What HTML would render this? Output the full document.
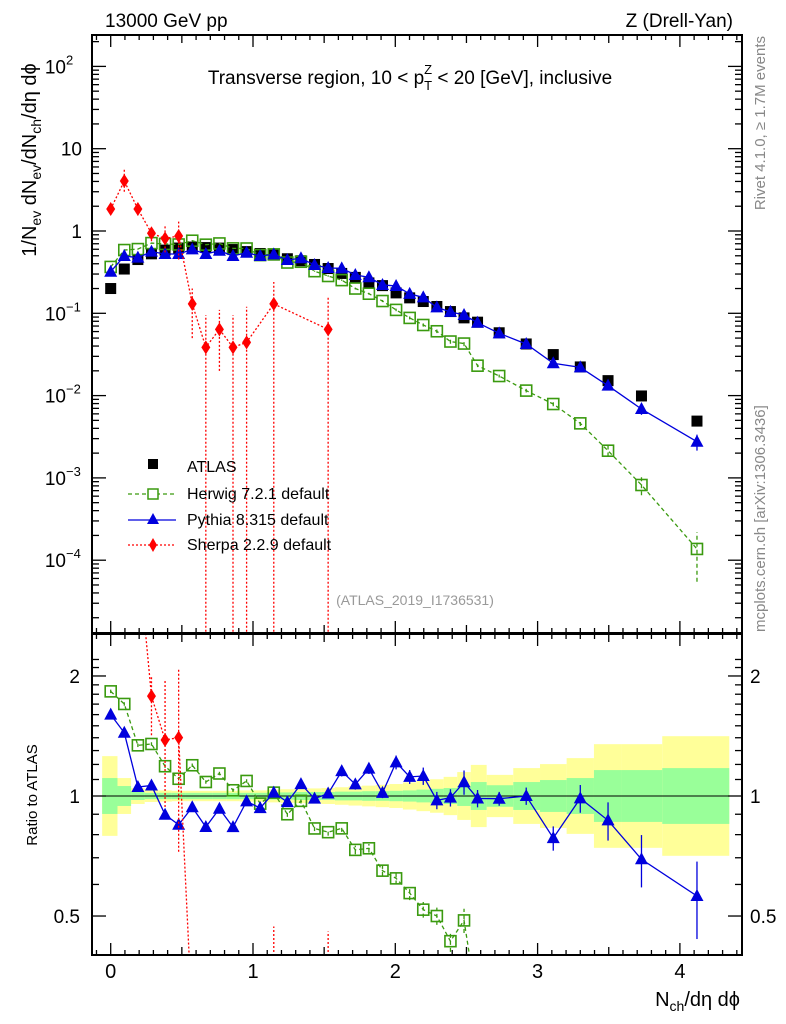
<!DOCTYPE html>
<html><head><meta charset="utf-8"><style>
html,body{margin:0;padding:0;background:#fff;width:786px;height:1024px;overflow:hidden;}
svg{display:block;font-family:"Liberation Sans",sans-serif;overflow:hidden;}
</style></head><body>
<svg id="chart" width="786" height="1024" viewBox="0 0 786 1024" xmlns="http://www.w3.org/2000/svg">
<defs>
<clipPath id="cm"><rect x="92" y="36" width="649" height="596"/></clipPath>
<clipPath id="cr"><rect x="92" y="635" width="649" height="319"/></clipPath>
</defs>
<g id="bands"></g>
<g id="frames"></g>
<g id="series"></g>
<text x="105" y="27" font-size="19">13000 GeV pp</text>
<text x="733" y="27" font-size="19" text-anchor="end">Z (Drell-Yan)</text>
<text x="410" y="84" font-size="19" text-anchor="middle">Transverse region, 10 &lt; p<tspan font-size="13" dy="6">T</tspan><tspan font-size="13" dx="-8" dy="-16">Z</tspan><tspan dy="10"> &lt; 20 [GeV], inclusive</tspan></text>
<text transform="translate(36,160) rotate(-90)" font-size="20" text-anchor="middle">1/N<tspan font-size="14" dy="5">ev</tspan><tspan dy="-5"> dN</tspan><tspan font-size="14" dy="5">ev</tspan><tspan dy="-5">/dN</tspan><tspan font-size="14" dy="5">ch</tspan><tspan dy="-5">/dη dϕ</tspan></text>
<text transform="translate(37,795) rotate(-90)" font-size="15" text-anchor="middle">Ratio to ATLAS</text>
<text x="740" y="1006" font-size="20" text-anchor="end">N<tspan font-size="14" dy="5">ch</tspan><tspan dy="-5">/dη dϕ</tspan></text>
<text transform="translate(765,36) rotate(-90)" font-size="15" fill="#888" text-anchor="end">Rivet 4.1.0, ≥ 1.7M events</text>
<text transform="translate(765,632) rotate(-90)" font-size="15" fill="#888" text-anchor="start">mcplots.cern.ch [arXiv:1306.3436]</text>
<text x="415" y="605" font-size="14" fill="#999" text-anchor="middle">(ATLAS_2019_I1736531)</text>
<g id="legend">
<rect x="148" y="459" width="10" height="10" fill="#000"/>
<text x="187" y="472" font-size="16">ATLAS</text>
<line x1="128" y1="494" x2="176" y2="494" stroke="#3a9a0f" stroke-width="1.3" stroke-dasharray="4,3"/>
<rect x="148" y="489" width="10" height="10" fill="#fff" stroke="#3a9a0f" stroke-width="1.5"/>
<text x="187" y="499" font-size="16">Herwig 7.2.1 default</text>
<line x1="128" y1="520" x2="176" y2="520" stroke="#0000dd" stroke-width="1.3"/>
<path d="M153,513 L159,524 L147,524 Z" fill="#0000dd"/>
<text x="187" y="525" font-size="16">Pythia 8.315 default</text>
<line x1="128" y1="545" x2="176" y2="545" stroke="#f00" stroke-width="1.3" stroke-dasharray="2,2"/>
<path d="M153,538 L157,545 L153,552 L149,545 Z" fill="#f00"/>
<text x="187" y="550" font-size="16">Sherpa 2.2.9 default</text>
</g>
</svg>
<script>
const xCenters=[0,0.0955,0.191,0.2865,0.382,0.4775,0.573,0.6685,0.764,0.8595,0.955,1.0505,1.146,1.2415,1.337,1.4325,1.528,1.6235,1.719,1.8145,1.91,2.0055,2.101,2.1965,2.292,2.3875,2.483,2.578,2.73,2.92,3.11,3.30,3.495,3.73,4.12];
const xEdgesHi=[0.0477,0.1432,0.2387,0.3342,0.4297,0.5252,0.6207,0.7162,0.8117,0.9072,1.0027,1.0982,1.1937,1.2892,1.3847,1.4802,1.5757,1.6712,1.7667,1.8622,1.9577,2.0532,2.1487,2.2442,2.3397,2.4352,2.5307,2.642,2.829,3.017,3.204,3.396,3.59,3.876,4.347];
const atlasVals=[0.2,0.345,0.45,0.528,0.586,0.621,0.638,0.629,0.62,0.595,0.562,0.533,0.51,0.46,0.435,0.392,0.35,0.305,0.273,0.234,0.217,0.177,0.154,0.139,0.121,0.105,0.088,0.078,0.058,0.0424,0.0315,0.0223,0.0152,0.0099,0.0049];
const herwigVals=[0.366,0.587,0.603,0.713,0.696,0.686,0.762,0.682,0.706,0.615,0.613,0.510,0.520,0.414,0.423,0.325,0.284,0.253,0.200,0.173,0.141,0.110,0.0879,0.0721,0.0605,0.0454,0.0429,0.0231,0.0173,0.0115,0.0079,0.0046,0.00214,0.00082,0.000137];
const herwigErr=[0.01,0.01,0.01,0.01,0.01,0.01,0.01,0.01,0.01,0.01,0.01,0.01,0.01,0.015,0.015,0.015,0.02,0.02,0.025,0.025,0.03,0.035,0.04,0.045,0.05,0.06,0.07,0.04,0.04,0.05,0.06,0.07,0.15,0.25,0.6];
const pythiaVals=[0.32,0.497,0.474,0.561,0.526,0.526,0.598,0.526,0.576,0.497,0.545,0.497,0.52,0.444,0.466,0.386,0.355,0.352,0.292,0.274,0.221,0.215,0.172,0.156,0.118,0.104,0.0953,0.0769,0.0571,0.0424,0.0247,0.022,0.0132,0.00687,0.00275];
const pythiaErr=[0.02,0.01,0.01,0.01,0.01,0.01,0.01,0.01,0.01,0.01,0.01,0.01,0.01,0.01,0.02,0.02,0.02,0.03,0.03,0.03,0.03,0.04,0.04,0.05,0.05,0.05,0.07,0.05,0.04,0.05,0.07,0.08,0.11,0.15,0.22];
const sherpaVals=[1.85,4.05,1.85,0.94,0.81,0.87,0.13,0.0386,0.0638,0.0386,0.0444,null,0.13,null,null,null,0.0638];
const sherpaLo=[1.6,3.0,1.55,0.75,0.55,0.45,0.05,1e-9,0.02,1e-9,1e-9,null,1e-9,null,null,null,1e-9];
const sherpaHi=[2.1,5.7,2.2,1.05,1.15,1.3,0.2,0.095,0.11,0.095,0.12,null,0.24,null,null,null,0.16];
const bandYellow=[0.10,0.045,0.02,0.015,0.014,0.013,0.013,0.013,0.013,0.013,0.014,0.014,0.016,0.017,0.018,0.019,0.02,0.022,0.024,0.026,0.028,0.03,0.034,0.038,0.042,0.048,0.06,0.078,0.053,0.07,0.08,0.095,0.13,0.13,0.15];
const bandGreen=[0.045,0.025,0.01,0.008,0.008,0.008,0.008,0.008,0.008,0.008,0.008,0.008,0.009,0.009,0.01,0.01,0.01,0.011,0.011,0.012,0.012,0.013,0.014,0.016,0.018,0.02,0.025,0.035,0.027,0.035,0.04,0.045,0.065,0.065,0.07];
const xTicks=[0,1,2,3,4];
const mainTickExp=[-4,-3,-2,-1,0,1,2];
const mainTickLabels=["10","10","10","10","1","10","10"];
const mainTickSup=["−4","−3","−2","−1","","","2"];
const ratioTicks=[0.5,1,2];

const clampY=y=>Math.max(0,Math.min(1020,y));
const X=v=>110.7+142.3*v;
const Ym=v=>clampY(231-82.3*Math.log10(v));
const Yr=r=>clampY(796-398.7*Math.log10(r));
const NS="http://www.w3.org/2000/svg";
function mk(tag,attrs,parent){const e=document.createElementNS(NS,tag);for(const k in attrs)e.setAttribute(k,attrs[k]);parent.appendChild(e);return e;}
const bands=document.getElementById('bands'),frames=document.getElementById('frames'),series=document.getElementById('series');
bands.setAttribute('clip-path','url(#cr)');

function drawBand(arr,color,nm){
  for(let i=0;i<xCenters.length;i++){
    const lo=i===0?-0.06:xEdgesHi[i-1];
    const d=arr[i];
    const r=mk('rect',{x:X(lo),y:Yr(Math.pow(10,d)),width:X(xEdgesHi[i])-X(lo),height:Yr(Math.pow(10,-d))-Yr(Math.pow(10,d)),fill:color},bands);
    
    
  }
}
drawBand(bandYellow,'#ffff99','total-unc-band');
drawBand(bandGreen,'#99ff99','stat-unc-band');
mk('line',{x1:92,y1:Yr(1),x2:741,y2:Yr(1),stroke:'#000','stroke-width':1},bands);

function frame(y0,y1,nm){
  const f=mk('rect',{x:92,y:y0,width:650,height:y1-y0,fill:'none',stroke:'#000','stroke-width':2},frames);
  
  
  for(let t=-0.1;t<=4.41;t+=0.1){
    const v=Math.round(t*10)/10;const xx=X(v);
    const L=Number.isInteger(v)?12:(Math.abs(v*2-Math.round(v*2))<1e-6?8:5);
    mk('line',{x1:xx,y1:y0,x2:xx,y2:y0+L,stroke:'#000','stroke-width':1.3},frames);
    mk('line',{x1:xx,y1:y1,x2:xx,y2:y1-L,stroke:'#000','stroke-width':1.3},frames);
  }
}
frame(35,633,'main-plot-frame');
frame(634,955,'ratio-plot-frame');
for(let e=-5;e<=2;e++){
  for(let m=1;m<10;m++){
    const v=m*Math.pow(10,e);const y=Ym(v);
    if(y<36||y>631)continue;
    const L=m===1?14:7;
    mk('line',{x1:92,y1:y,x2:92+L,y2:y,stroke:'#000','stroke-width':1.3},frames);
    mk('line',{x1:742,y1:y,x2:742-L,y2:y,stroke:'#000','stroke-width':1.3},frames);
  }
}
mainTickExp.forEach((e,i)=>{
  const t=mk('text',{x:mainTickSup[i]?66:82,y:Ym(Math.pow(10,e))+7,'font-size':19,'text-anchor':'end'},frames);
  t.textContent=mainTickLabels[i];
  
  
  if(mainTickSup[i]){const s=mk('text',{x:66,y:Ym(Math.pow(10,e))-2,'font-size':13},frames);s.textContent=mainTickSup[i];}
});
for(let v=0.4;v<=2.3;v+=0.1){
  const r=Math.round(v*10)/10;const y=Yr(r);if(y<636||y>953)continue;
  const L=(r===0.5||r===1||r===2)?14:7;
  mk('line',{x1:92,y1:y,x2:92+L,y2:y,stroke:'#000','stroke-width':1.3},frames);
  mk('line',{x1:742,y1:y,x2:742-L,y2:y,stroke:'#000','stroke-width':1.3},frames);
}
ratioTicks.forEach(r=>{
  const t=mk('text',{x:80,y:Yr(r)+7,'font-size':19,'text-anchor':'end'},frames);t.textContent=String(r);
  
  
  const t2=mk('text',{x:750,y:Yr(r)+7,'font-size':19},frames);t2.textContent=String(r);
  
  
});
xTicks.forEach(v=>{
  const t=mk('text',{x:X(v),y:978,'font-size':20,'text-anchor':'middle'},frames);t.textContent=String(v);
  
  
});

const gm=mk('g',{'clip-path':'url(#cm)'},series);
const gr=mk('g',{'clip-path':'url(#cr)'},series);
function marker(g,type,x,y,color){
  if(type==='sq')return mk('rect',{x:x-5.5,y:y-5.5,width:11,height:11,fill:'#000'},g);
  if(type==='osq')return mk('rect',{x:x-5.5,y:y-5.5,width:11,height:11,fill:'none',stroke:color,'stroke-width':1.6},g);
  if(type==='tri')return mk('path',{d:`M${x},${y-7} L${x+6.5},${y+5} L${x-6.5},${y+5} Z`,fill:color},g);
  return mk('path',{d:`M${x},${y-7} L${x+4.5},${y} L${x},${y+7} L${x-4.5},${y} Z`,fill:color},g);
}
function drawSeries(g,vals,lo,hi,yf,type,color,dash,nm){
  let d='';
  vals.forEach((v,i)=>{if(v==null)return;d+=(d?'L':'M')+X(xCenters[i])+','+yf(v);});
  const p=mk('path',{d:d,fill:'none',stroke:color,'stroke-width':1.3},g);
  if(dash)p.setAttribute('stroke-dasharray',dash);
  
  
  vals.forEach((v,i)=>{
    if(v==null)return;const x=X(xCenters[i]);
    if(lo&&lo[i]!=null){
      const l=mk('line',{x1:x,y1:yf(lo[i]),x2:x,y2:yf(hi[i]),stroke:color,'stroke-width':1.3},g);
      if(dash)l.setAttribute('stroke-dasharray',dash);
    }
    const m=marker(g,type,x,yf(v),color);
    
    
  });
}
const hLo=herwigVals.map((v,i)=>v*(1-herwigErr[i])),hHi=herwigVals.map((v,i)=>v*(1+herwigErr[i]));
const pLo=pythiaVals.map((v,i)=>v*(1-pythiaErr[i])),pHi=pythiaVals.map((v,i)=>v*(1+pythiaErr[i]));
atlasVals.forEach((v,i)=>{const m=marker(gm,'sq',X(xCenters[i]),Ym(v),'#000');
  
  });
drawSeries(gm,herwigVals,hLo,hHi,Ym,'osq','#3a9a0f','4,3','herwig');
drawSeries(gm,pythiaVals,pLo,pHi,Ym,'tri','#0000dd',null,'pythia');
drawSeries(gm,sherpaVals,sherpaLo,sherpaHi,Ym,'dia','#ff0000','2,2','sherpa');
const rat=(arr)=>arr.map((v,i)=>v==null?null:v/atlasVals[i]);
drawSeries(gr,rat(herwigVals),rat(hLo),rat(hHi),Yr,'osq','#3a9a0f','4,3','herwig-ratio');
drawSeries(gr,rat(pythiaVals),rat(pLo),rat(pHi),Yr,'tri','#0000dd',null,'pythia-ratio');
drawSeries(gr,rat(sherpaVals),rat(sherpaLo),rat(sherpaHi),Yr,'dia','#ff0000','2,2','sherpa-ratio');
</script>
</body></html>
